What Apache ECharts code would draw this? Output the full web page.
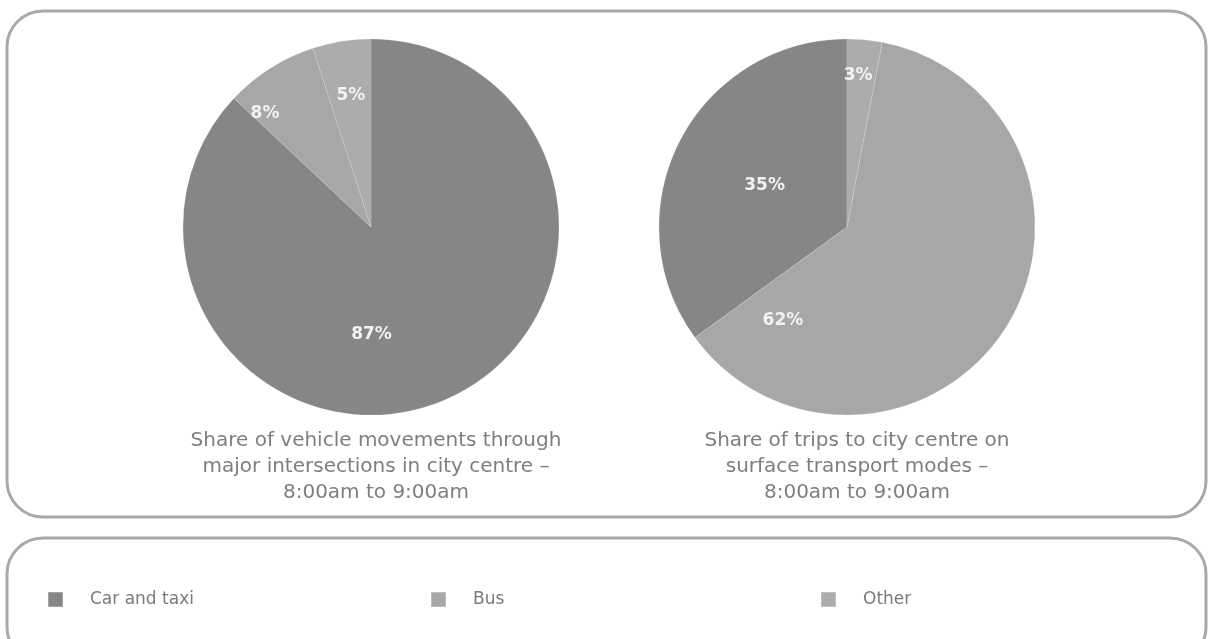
<!DOCTYPE html>
<html><head><meta charset="utf-8">
<script src="https://cdn.jsdelivr.net/npm/echarts@6/dist/echarts.min.js"></script>
<style>html,body{margin:0;padding:0;background:#fff}#c{width:1208px;height:639px}</style>
</head><body><div id="c"></div>
<script>
const categories = ['Car and taxi', 'Bus', 'Other'];
const vehicleShares = [87, 8, 5];
const tripShares = [35, 62, 3];
const captionLeft = 'Share of vehicle movements through\nmajor intersections in city centre –\n8:00am to 9:00am';
const captionRight = 'Share of trips to city centre on\nsurface transport modes –\n8:00am to 9:00am';
const colors = ['#868686', '#a7a7a7', '#acacac'];

const FONT = '"DejaVu Sans", sans-serif';
// label offsets to mimic hand-placed labels in the original
const offsLeft = [[-38, 19], [-54, -32], [-5, -36]];
const offsRight = [[4, 3], [-146, 42], [2, -55]];

function mk(vals, offs) {
  return categories.map((n, i) => ({
    name: n, value: vals[i],
    label: { offset: offs[i] }
  }));
}

const chart = echarts.init(document.getElementById('c'));
const pieCommon = {
  type: 'pie', radius: ['0%', 188], startAngle: 90,
  itemStyle: { borderColor: 'rgba(255,255,255,0.25)', borderWidth: 0.5 },
  label: { show: true, position: 'inside', formatter: '{c}%', color: '#f2f2f2',
           fontFamily: FONT, fontWeight: 'bold', fontSize: 17 },
  labelLine: { show: false }, emphasis: { disabled: true }, silent: true, animation: false
};
const capStyle = { fontFamily: FONT, fontWeight: 'normal', fontSize: 20, color: '#7e7e7e', lineHeight: 26, align: 'center' };
chart.setOption({
  animation: false,
  color: colors,
  graphic: [
    { type: 'rect', shape: { x: 7, y: 11, width: 1199, height: 506, r: 36 },
      style: { fill: 'none', stroke: '#a9a9a9', lineWidth: 3 }, silent: true },
    { type: 'rect', shape: { x: 7, y: 538, width: 1199, height: 125, r: 36 },
      style: { fill: 'none', stroke: '#a9a9a9', lineWidth: 3 }, silent: true }
  ],
  title: [
    { text: captionLeft, left: 371, top: 423, textAlign: 'center', textStyle: capStyle },
    { text: captionRight, left: 852, top: 423, textAlign: 'center', textStyle: capStyle }
  ],
  legend: categories.map((n, i) => ({
    data: [n], left: [42, 425, 815][i], top: 586, orient: 'horizontal',
    icon: 'rect', itemWidth: 15, itemHeight: 15, selectedMode: false,
    textStyle: { fontFamily: FONT, fontSize: 17, color: '#7a7a7a', padding: [0, 0, 0, 22] }
  })),
  series: [
    Object.assign({}, pieCommon, { name: 'vehicles', center: [371, 227], clockwise: true,
      data: mk(vehicleShares, offsLeft) }),
    Object.assign({}, pieCommon, { name: 'trips', center: [847, 227], clockwise: false,
      data: mk(tripShares, offsRight) })
  ]
});
</script></body></html>
